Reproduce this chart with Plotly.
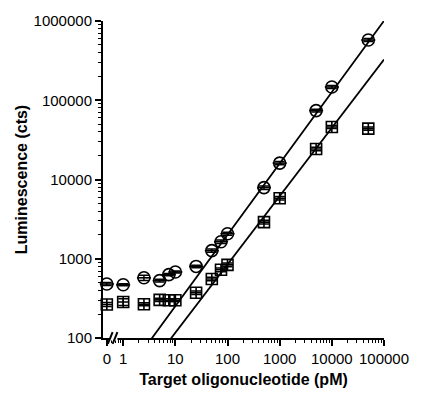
import numpy as np
import plotly.graph_objects as go

# ---------------- data ----------------
conc = [0, 1, 2.5, 5, 7.5, 10, 25, 50, 75, 100, 500, 1000, 5000, 10000, 50000]
circle_y = [480, 470, 575, 530, 630, 680, 800, 1265, 1640, 2070, 7900, 16100, 74000, 147000, 575000]
circle_err = [20, 15, 45, 20, 20, 20, 30, 60, 80, 90, 400, 800, 3000, 6000, 25000]
square_y = [265, 285, 267, 303, 300, 300, 373, 556, 726, 837, 2900, 5800, 24300, 45900, 43900]
square_err = [15, 28, 12, 15, 12, 12, 20, 30, 40, 45, 150, 300, 1200, 2000, 2000]

# power-law fits (log-log straight lines)
circle_fit = {"slope": 0.90, "log_intercept": 1.502}
square_fit = {"slope": 0.862, "log_intercept": 1.205}

x_tick_vals = [0, 1, 10, 100, 1000, 10000, 100000]
x_tick_text = ["0", "1", "10", "100", "1000", "10000", "100000"]
y_tick_vals = [100, 1000, 10000, 100000, 1000000]
y_tick_text = ["100", "1000", "10000", "100000", "1000000"]

ZERO_POS = 10 ** -0.314  # where "0" sits on the broken log axis


def xpos(v):
    return [ZERO_POS if c == 0 else c for c in v]


xs = xpos(conc)

x_minor = [k * 10.0 ** d for d in range(0, 5) for k in range(2, 10)] + [0.6, 0.7, 0.8, 0.9]
y_minor = [k * 10.0 ** d for d in range(2, 6) for k in range(2, 10)]

fig = go.Figure()

# fit lines
xl = np.logspace(0.3, 5.0, 200)
for fit in (circle_fit, square_fit):
    yl = 10 ** (fit["log_intercept"] + fit["slope"] * np.log10(xl))
    fig.add_trace(go.Scatter(x=xl, y=yl, mode="lines",
                             line=dict(color="black", width=1.8),
                             hoverinfo="skip", showlegend=False, cliponaxis=True))

# circles
fig.add_trace(go.Scatter(
    x=xs, y=circle_y, mode="markers",
    error_y=dict(type="data", array=circle_err, color="black", thickness=1.5, width=5),
    marker=dict(symbol="circle-open", size=12, color="black", line=dict(width=1.6)),
    showlegend=False, cliponaxis=False))
fig.add_trace(go.Scatter(
    x=xs, y=circle_y, mode="markers",
    marker=dict(symbol="line-ew-open", size=10, color="black", line=dict(width=1.6)),
    showlegend=False, cliponaxis=False))

# squares
fig.add_trace(go.Scatter(
    x=xs, y=square_y, mode="markers",
    error_y=dict(type="data", array=square_err, color="black", thickness=1.5, width=5),
    marker=dict(symbol="square-cross-open", size=11, color="black", line=dict(width=1.6)),
    showlegend=False, cliponaxis=False))

# layout geometry
W, H = 421, 398
L, R, T, B = 103, 26, 19, 57
pw = W - L - R


def px_to_paper(px):
    return (px - L) / pw


font = dict(family="Liberation Sans, Arial, sans-serif", size=15, color="black")

shapes = [
    dict(type="line", xref="paper", yref="paper",
         x0=px_to_paper(110), x1=px_to_paper(118), y0=0, y1=0,
         line=dict(color="white", width=5), layer="above"),
    dict(type="line", xref="paper", yref="paper",
         x0=px_to_paper(108), x1=px_to_paper(113), y0=-6 / 322, y1=6 / 322,
         line=dict(color="black", width=2), layer="above"),
    dict(type="line", xref="paper", yref="paper",
         x0=px_to_paper(113), x1=px_to_paper(118), y0=-6 / 322, y1=6 / 322,
         line=dict(color="black", width=2), layer="above"),
]

fig.update_layout(
    width=W, height=H,
    margin=dict(l=L, r=R, t=T, b=B),
    paper_bgcolor="white", plot_bgcolor="white",
    font=font,
    shapes=shapes,
    xaxis=dict(
        type="log", range=[-0.387, 5.0],
        tickmode="array", tickvals=xpos(x_tick_vals), ticktext=x_tick_text,
        ticks="outside", ticklen=6, tickwidth=1.5, tickcolor="black",
        showline=True, linecolor="black", linewidth=2,
        showgrid=False, zeroline=False,
        minor=dict(tickmode="array", tickvals=x_minor, ticks="outside", ticklen=3,
                   tickwidth=1, tickcolor="black", showgrid=False),
        tickfont=dict(size=15),
        title=dict(text="<b>Target oligonucleotide (pM)</b>", font=dict(size=16), standoff=8),
    ),
    yaxis=dict(
        type="log", range=[2, 6],
        tickmode="array", tickvals=y_tick_vals, ticktext=y_tick_text,
        ticks="outside", ticklen=6, tickwidth=1.5, tickcolor="black",
        showline=True, linecolor="black", linewidth=2,
        showgrid=False, zeroline=False,
        minor=dict(tickmode="array", tickvals=y_minor, ticks="outside", ticklen=3,
                   tickwidth=1, tickcolor="black", showgrid=False),
        tickfont=dict(size=15),
        title=dict(text="<b>Luminescence (cts)</b>", font=dict(size=16), standoff=2),
    ),
)

fig.write_html("out.html")
